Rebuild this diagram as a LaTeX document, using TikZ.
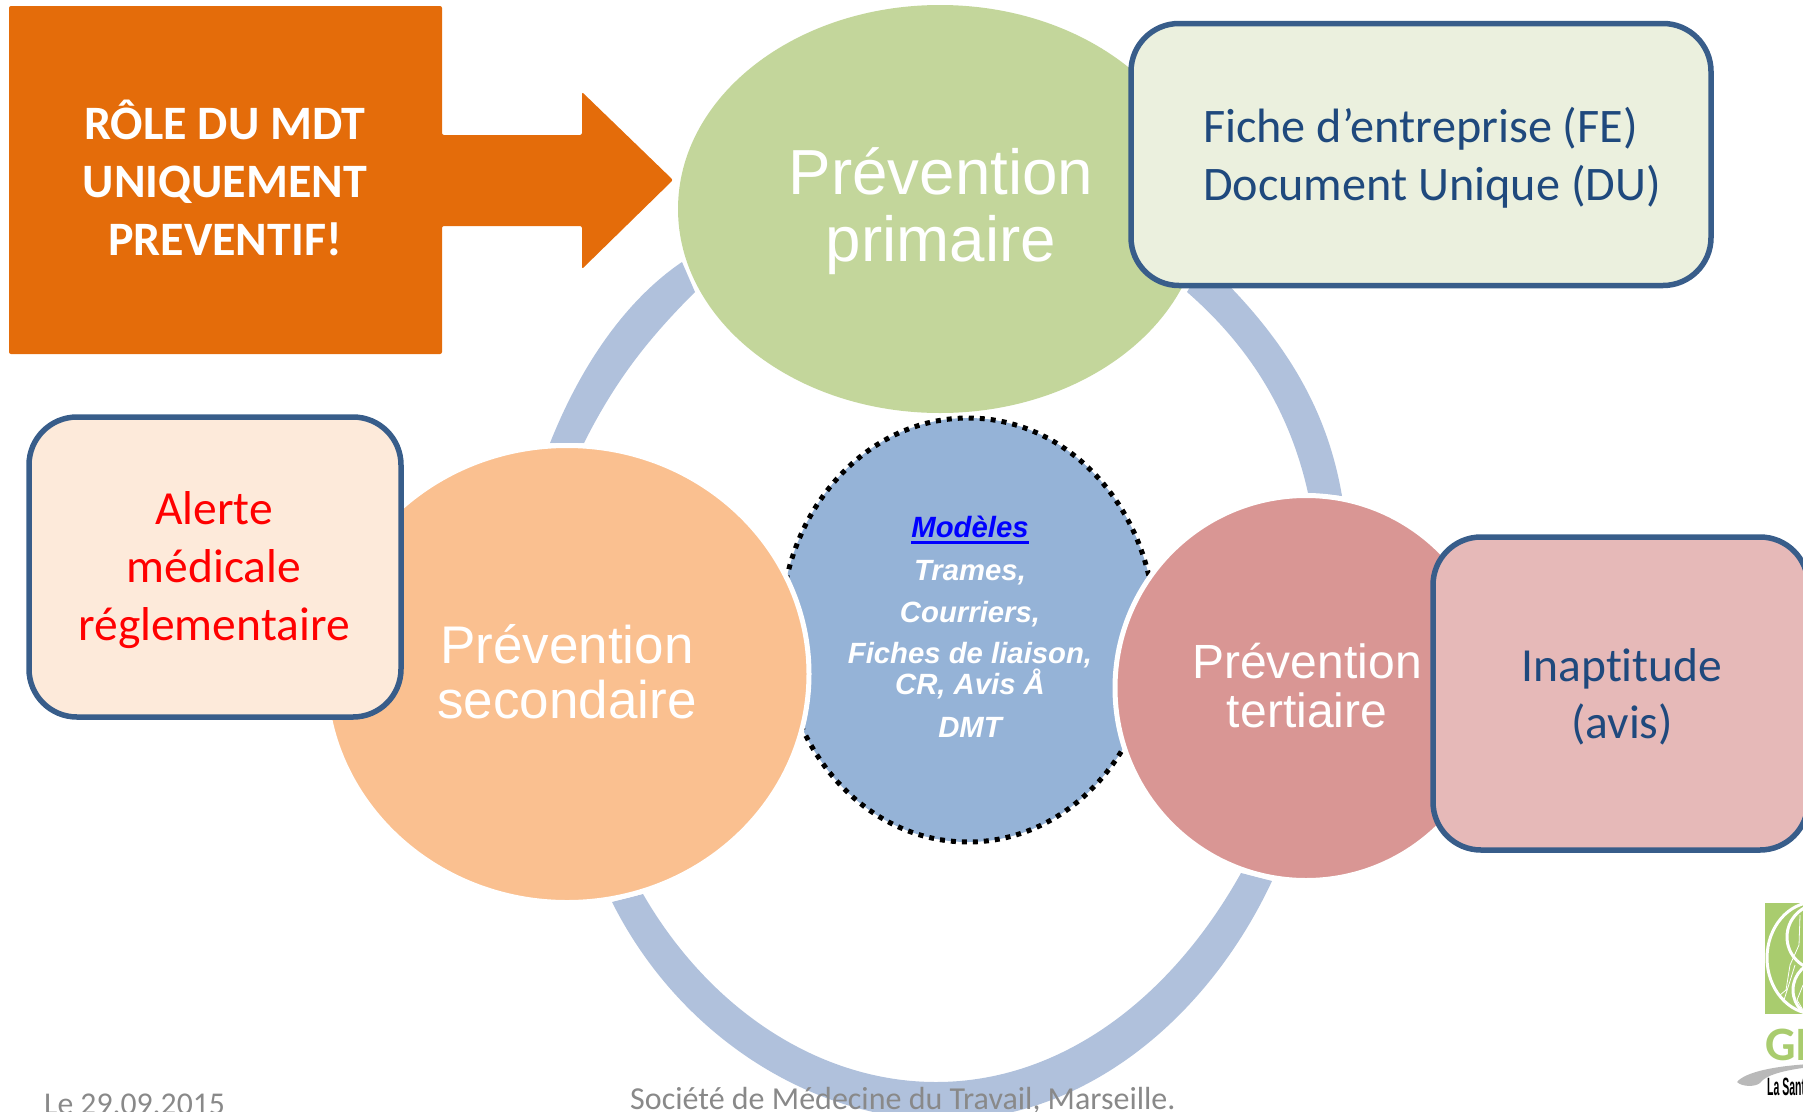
\documentclass[tikz,border=0pt]{standalone}
\usepackage{fontspec}
\setmainfont[Ligatures=NoCommon]{Carlito}
\newfontfamily\arialf{Liberation Sans}
\usetikzlibrary{shapes.geometric}
\definecolor{ringc}{HTML}{B0C1DC}
\definecolor{orangec}{HTML}{E46C0A}
\definecolor{greenc}{HTML}{C3D69B}
\definecolor{peachc}{HTML}{FAC090}
\definecolor{rosec}{HTML}{D99694}
\definecolor{bluec}{HTML}{95B3D7}
\definecolor{borderc}{HTML}{385D8A}
\definecolor{navyc}{HTML}{1F497D}
\definecolor{footc}{HTML}{898989}
\definecolor{logoc}{HTML}{A9CC6E}
\definecolor{cardg}{HTML}{EBF0DE}
\definecolor{cardo}{HTML}{FDEADA}
\definecolor{cardr}{HTML}{E6B9B8}
\newcommand{\ulbox}[1]{\leavevmode\setbox0\hbox{#1}\rlap{\raisebox{-6pt}{\rule{\wd0}{3pt}}}\box0 }
\tikzset{
  ringarc/.style={fill=ringc,draw=none},
  blob/.style={ellipse,inner sep=0pt,outer sep=0pt},
  halo/.style={draw=white,line width=5pt},
  card/.style={draw=borderc,line width=5.5pt,rounded corners=48pt},
  circtext/.style={text=white,align=center,inner sep=0pt},
  cardtext/.style={align=center,inner sep=0pt},
}
\begin{document}
\begin{tikzpicture}[x=1pt,y=-1pt]
\useasboundingbox (0,0) rectangle (1803,1111);
\clip (0,0) rectangle (1803,1111);
% ring
\fill[ringarc] (682,262) .. controls (626,300) and (581,365) .. (550,443) -- (584,443) .. controls (617,377) and (652,335) .. (695,292) -- cycle;
\fill[ringarc] (1205,262) .. controls (1294,345) and (1329,420) .. (1342,496) -- (1308,493) .. controls (1290,412) and (1250,347) .. (1187,292) -- cycle;
\fill[ringarc] (612,902) .. controls (678,1034) and (810,1120) .. (945,1120) .. controls (1085,1120) and (1208,1018) .. (1272,881) -- (1241,873) .. controls (1170,1000) and (1060,1082) .. (936,1082) .. controls (820,1082) and (710,1010) .. (643,894) -- cycle;
% centre
\node[blob,fill=bluec,draw=black,line width=5pt,dash pattern=on 5pt off 6pt,minimum width=374pt,minimum height=424pt] (centre) at (968,630) {};
% three prevention shapes
\node[blob,fill=greenc,minimum width=524pt,minimum height=408pt] (prim) at (940,209) {};
\node[blob,fill=peachc,halo,minimum width=484pt,minimum height=457pt] (sec) at (567,674) {};
\node[blob,fill=rosec,halo,minimum width=382pt,minimum height=385pt] (ter) at (1306,688) {};
% orange panel
\fill[orangec,rounded corners=2pt] (9,6) -- (442,6) -- (442,135) -- (582,135) -- (582,92) -- (673,180) -- (582,269) -- (582,226) -- (442,226) -- (442,354) -- (9,354) -- cycle;
\node[cardtext,text=white,font=\fontsize{48}{58}\selectfont\bfseries] (role) at (225,178) {RÔLE DU MDT\\UNIQUEMENT\\PREVENTIF!};
% cards
\draw[card,fill=cardg] (1131,23.5) rectangle (1711,285.5);
\draw[card,fill=cardo] (29,417) rectangle (401,717);
\draw[card,fill=cardr] (1433,537) rectangle (1808,850);
\node[cardtext,text=navyc,align=left,font=\fontsize{48.2}{58}\selectfont] (fiche) at (1432,158) {Fiche d’entreprise (FE)\\Document Unique (DU)};
\node[cardtext,text=red,font=\fontsize{47.5}{58}\selectfont] (alerte) at (214,570) {Alerte\\médicale\\réglementaire};
\node[cardtext,text=navyc,font=\fontsize{47.5}{57}\selectfont] (inapt) at (1622,697) {Inaptitude\\(avis)};
% circle labels
\node[circtext,font=\fontsize{63.7}{67}\selectfont\arialf] (lprim) at (941,211) {Prévention\\primaire};
\node[circtext,font=\fontsize{53}{55}\selectfont\arialf] (lsec) at (567,672) {Prévention\\secondaire};
\node[circtext,font=\fontsize{48}{49}\selectfont\arialf] (lter) at (1307,685.5) {Prévention\\tertiaire};
\node[circtext,font=\fontsize{29.3}{31}\selectfont\arialf\bfseries\itshape] (lcentre) at (970,627) {{\color{blue}\ulbox{Modèles}}\\[12pt]Trames,\\[11pt]Courriers,\\[10pt]Fiches de liaison,\\CR, Avis Å\\[12pt]DMT};
% footer
\node[anchor=base west,inner sep=0pt,text=footc,font=\fontsize{31.7}{34}\selectfont] (date) at (44,1114) {Le 29.09.2015};
\node[anchor=base west,inner sep=0pt,text=footc,font=\fontsize{32}{34}\selectfont] (soc) at (630,1109) {Société de Médecine du Travail, Marseille.};
% logo
\fill[logoc] (1765,903) rectangle (1810,1014);
\draw[white,line width=3pt] (1815,958) ellipse (48 and 56);
\draw[white,line width=3pt] (1820,937) circle (33);
\draw[white,line width=3pt] (1822,990) circle (29);
\draw[white,line width=.8pt] (1800,915) -- (1799,945) -- (1790,965) -- (1786,990) -- (1780,995) -- (1784,1000) -- (1795,965);
\draw[white,line width=.8pt] (1803,985) -- (1797,1000) -- (1803,1010);
\node[anchor=base west,inner sep=0pt,text=logoc,font=\fontsize{48}{50}\selectfont\bfseries] (gi) at (1765,1060) {GI};
\fill[gray!55] (1737,1082) .. controls (1745,1072) and (1775,1066) .. (1810,1064) -- (1810,1067) .. controls (1785,1070) and (1765,1075) .. (1760,1083) .. controls (1755,1087) and (1742,1087) .. (1737,1082) -- cycle;
\node[anchor=base west,inner sep=0pt,text=black,font=\fontsize{25}{27}\selectfont\arialf\bfseries] (lasant) at (1767,1095) {\scalebox{.42}[1]{La Santé}};
\end{tikzpicture}
\end{document}
